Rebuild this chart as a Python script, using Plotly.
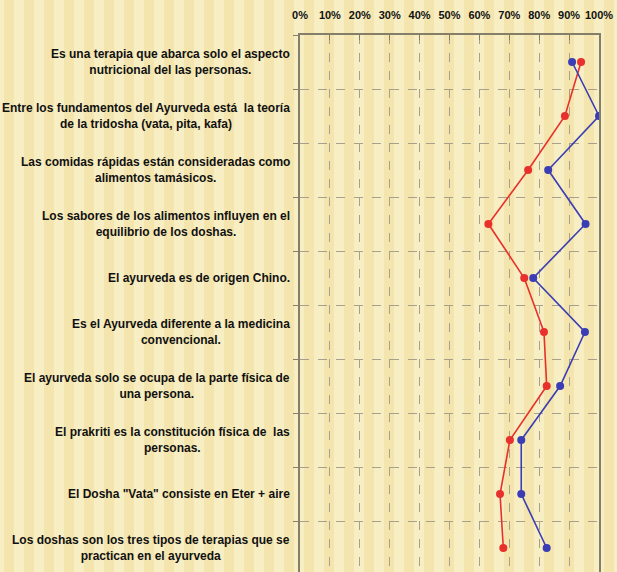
import plotly.graph_objects as go

# Survey statements (category axis, top to bottom)
statements = [
    "Es una terapia que abarca solo el aspecto<br>nutricional del las personas.",
    "Entre los fundamentos del Ayurveda está  la teoría<br>de la tridosha (vata, pita, kafa)",
    "Las comidas rápidas están consideradas como<br>alimentos tamásicos.",
    "Los sabores de los alimentos influyen en el<br>equilibrio de los doshas.",
    "El ayurveda es de origen Chino.",
    "Es el Ayurveda diferente a la medicina<br>convencional.",
    "El ayurveda solo se ocupa de la parte física de<br>una persona.",
    "El prakriti es la constitución física de  las<br>personas.",
    "El Dosha \"Vata\" consiste en Eter + aire",
    "Los doshas son los tres tipos de terapias que se<br>practican en el ayurveda",
]

# Share of answers per statement (fraction of 1)
serie_azul = [0.91, 1.00, 0.83, 0.955, 0.78, 0.953, 0.87, 0.74, 0.74, 0.825]
serie_roja = [0.94, 0.886, 0.763, 0.63, 0.75, 0.816, 0.825, 0.702, 0.669, 0.68]

x_ticks = [i / 10 for i in range(11)]
x_tick_text = [f"{i * 10}%" for i in range(11)]

BG = "#f3e5ad"
LIGHT = "rgba(252,246,214,0.55)"
GRID = "#a7a08a"
AXIS = "#857e68"
TEXT = "#111111"

fig = go.Figure()

fig.add_trace(go.Scatter(
    x=serie_roja, y=statements, mode="lines+markers",
    line=dict(color="#e8302c", width=1.6),
    marker=dict(color="#e8302c", size=8),
    showlegend=False,
))
fig.add_trace(go.Scatter(
    x=serie_azul, y=statements, mode="lines+markers",
    line=dict(color="#3a3db4", width=1.6),
    marker=dict(color="#3a3db4", size=8),
    showlegend=False,
))

# Soft vertical stripes of the slide background
W = 617
plot_left, plot_w = 300, 299
shapes = []
for px in range(-6, W + 20, 20):
    shapes.append(dict(
        type="rect", layer="below", xref="paper", yref="paper",
        x0=(px - plot_left) / plot_w, x1=(px + 10 - plot_left) / plot_w,
        y0=-0.1, y1=1.1, line=dict(width=0), fillcolor=LIGHT,
    ))

# Centered, wrapped category labels to the left of the axis
annotations = []
for s in statements:
    annotations.append(dict(
        x=0, xref="paper", y=s, yref="y", xanchor="right", yanchor="middle",
        xshift=-8, text=s, showarrow=False, align="center",
        font=dict(family="Liberation Sans", size=12, color=TEXT, weight="bold"),
    ))

fig.update_layout(
    width=617, height=572,
    margin=dict(l=300, r=18, t=35, b=0),
    paper_bgcolor=BG, plot_bgcolor="rgba(0,0,0,0)",
    shapes=shapes, annotations=annotations,
    xaxis=dict(
        side="top", range=[0, 1], tickvals=x_ticks, ticktext=x_tick_text,
        showline=True, linecolor=AXIS, linewidth=1.5,
        ticks="inside", ticklen=5, tickcolor=AXIS,
        showgrid=True, gridcolor=GRID, griddash="dash", gridwidth=1,
        tickfont=dict(family="Liberation Sans", size=11, color=TEXT, weight="bold"),
        ticklabelstandoff=10, zeroline=False, fixedrange=True,
    ),
    yaxis=dict(
        type="category", categoryorder="array", categoryarray=statements,
        range=[9.444, -0.5], tickson="boundaries",
        showticklabels=False, ticks="outside", ticklen=5, tickcolor=AXIS,
        showline=True, mirror=True, linecolor=AXIS, linewidth=1.5,
        showgrid=True, gridcolor=GRID, griddash="dash", gridwidth=1,
        zeroline=False, fixedrange=True,
    ),
)

fig.write_html("out.html")
